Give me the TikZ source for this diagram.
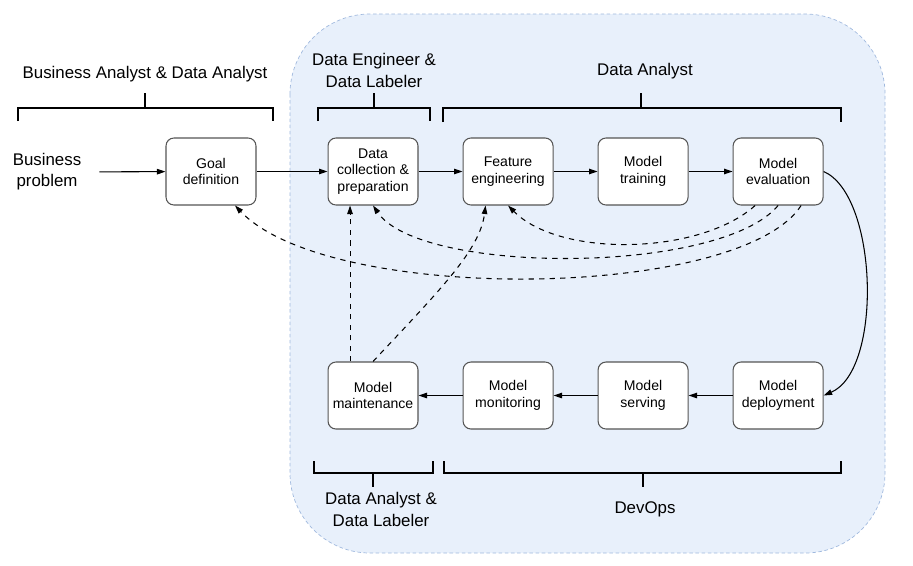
\documentclass[tikz,border=0pt]{standalone}
\usepackage{fontspec}
\setmainfont{Liberation Sans}
\usetikzlibrary{arrows.meta,positioning}
\definecolor{opsfill}{RGB}{232,240,251}
\definecolor{opsline}{RGB}{160,185,222}
\definecolor{boxline}{RGB}{85,85,85}

\begin{document}
\begin{tikzpicture}[
    x=0.02cm, y=-0.02cm,
    stage/.style={rectangle, draw=boxline, fill=white, line width=0.6pt, rounded corners=4.5pt, minimum width=1.8cm, minimum height=1.34cm, align=center, inner sep=1pt, font=\fontsize{8}{9.6}\selectfont},
    role/.style={align=center, font=\fontsize{9.6}{12}\selectfont},
    bracket/.style={line width=0.6pt},
    arrow/.style={-{Triangle[length=1.7mm,width=1.1mm]}, line width=0.6pt},
    back/.style={arrow, dashed},
]
    \useasboundingbox (0,0) rectangle (913,565);

    % operations area
    \draw[opsline, fill=opsfill, dash pattern=on 2pt off 1.5pt, rounded corners=1.6cm] (290,14) rectangle (885,553);

    \node[stage] (goal) at (211,171.5) {Goal\\definition};
    \node[stage, right=1.42cm of goal] (collect) {Data\\collection \&\\preparation};
    \node[stage, right=0.88cm of collect] (feature) {Feature\\engineering};
    \node[stage, right=0.88cm of feature] (train) {Model\\training};
    \node[stage, right=0.88cm of train] (evaluate) {Model\\evaluation};

    \node[stage, below=3.12cm of evaluate] (deploy) {Model\\deployment};
    \node[stage, left=0.88cm of deploy] (serve) {Model\\serving};
    \node[stage, left=0.88cm of serve] (monitor) {Model\\monitoring};
    \node[stage, left=0.88cm of monitor] (maintain) {Model\\maintenance};

    \node[role] (problem) at (47,172) {Business\\problem};

    % roles
    \draw[bracket] (18,121) |- (273,108) -- (273,121);
    \draw[bracket] (145,108) -- (145,93);
    \node[role] (bizrole) at (145,74) {Business Analyst \& Data Analyst};

    \draw[bracket] (318,121) |- (430,108) -- (430,121);
    \draw[bracket] (374,108) -- (374,93);
    \node[role] (engrole) at (374,70.5) {Data Engineer \&\\Data Labeler};

    \draw[bracket] (443,122) |- (841,108) -- (841,122);
    \draw[bracket] (641,108) -- (641,93);
    \node[role] (anarole) at (645,71) {Data Analyst};

    \draw[bracket] (314,461) |- (433,473) -- (433,461);
    \draw[bracket] (373,473) -- (373,487);
    \node[role] (labrole) at (381,509.5) {Data Analyst \&\\Data Labeler};

    \draw[bracket] (444,461) |- (841,473) -- (841,461);
    \draw[bracket] (643,473) -- (643,487);
    \node[role] (opsrole) at (645,509) {DevOps};

    % main flow
    \draw[arrow, shorten <=0.24cm] (problem) -- (goal);
    \draw[arrow] (goal) -- (collect);
    \draw[arrow] (collect) -- (feature);
    \draw[arrow] (feature) -- (train);
    \draw[arrow] (train) -- (evaluate);
    \draw[arrow] (evaluate.east) .. controls (878,195) and (883,370) .. (deploy.east);
    \draw[arrow] (deploy) -- (serve);
    \draw[arrow] (serve) -- (monitor);
    \draw[arrow] (monitor) -- (maintain);

    % feedback loops
    \draw[back] ([xshift=-0.46cm]evaluate.south) .. controls (700,255) and (560,258) .. (feature.south);
    \draw[back] (evaluate.south) .. controls (720,275) and (420,275) .. (collect.south);
    \draw[back] ([xshift=0.46cm]evaluate.south) .. controls (740,300) and (330,305) .. ([xshift=0.48cm]goal.south);
    \draw[back] ([xshift=-0.46cm]maintain.north) -- ([xshift=-0.46cm]collect.south);
    \draw[back] (maintain.north) .. controls (440,290) and (480,250) .. ([xshift=-0.45cm]feature.south);
\end{tikzpicture}
\end{document}
